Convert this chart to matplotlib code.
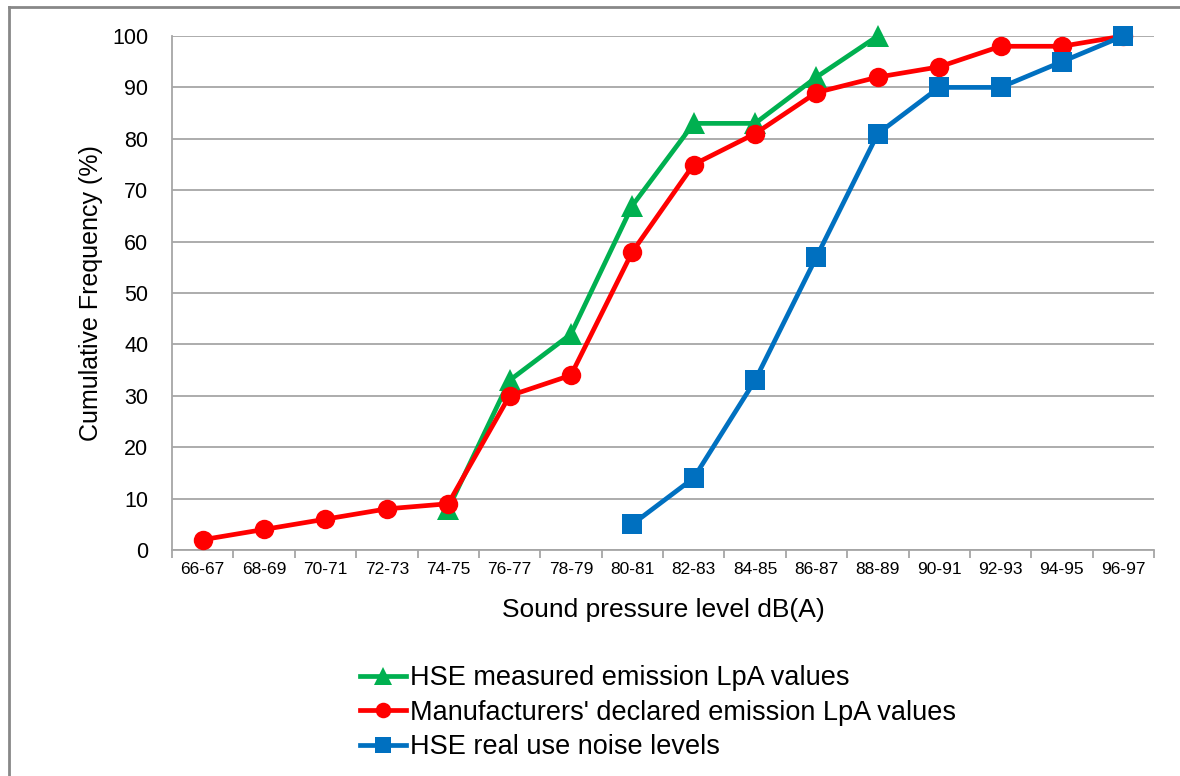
import numpy as np
import matplotlib

matplotlib.use("Agg")
import matplotlib.pyplot as plt
from matplotlib.lines import Line2D

plt.rcParams["font.family"] = ["Liberation Sans", "DejaVu Sans"]

categories = ["66-67", "68-69", "70-71", "72-73", "74-75", "76-77", "78-79", "80-81",
              "82-83", "84-85", "86-87", "88-89", "90-91", "92-93", "94-95", "96-97"]
nan = np.nan
hse_measured = [nan, nan, nan, nan, 8, 33, 42, 67, 83, 83, 92, 100, nan, nan, nan, nan]
manufacturers = [2, 4, 6, 8, 9, 30, 34, 58, 75, 81, 89, 92, 94, 98, 98, 100]
hse_real_use = [nan, nan, nan, nan, nan, nan, nan, 5, 14, 33, 57, 81, 90, 90, 95, 100]

series = [
    ("HSE measured emission LpA values", hse_measured, "#00B050", "^", 16),
    ("Manufacturers' declared emission LpA values", manufacturers, "#FF0000", "o", 14),
    ("HSE real use noise levels", hse_real_use, "#0070C0", "s", 14),
]

fig = plt.figure(figsize=(11.8, 7.76), dpi=100)
ax = fig.add_axes([172 / 1180, 1 - 550 / 776, (1154 - 172) / 1180, (550 - 36) / 776])

x = np.arange(len(categories))
for label, vals, color, marker, msize in series:
    ax.plot(x, vals, color=color, lw=3.4, marker=marker, markersize=msize,
            markeredgewidth=0, label=label, zorder=3, clip_on=False)

ax.set_xlim(-0.5, len(categories) - 0.5)
ax.set_ylim(0, 100)
ax.set_yticks(range(0, 101, 10))
ax.yaxis.grid(True, color="#A6A6A6", lw=1.3)
ax.set_axisbelow(True)
ax.tick_params(axis="y", length=0, pad=17, labelsize=15.5)

ax.set_xticks(np.arange(-0.5, len(categories), 1.0))
ax.set_xticklabels([])
ax.tick_params(axis="x", which="major", length=6, color="#A6A6A6", width=1.3)
ax.set_xticks(x, minor=True)
ax.set_xticklabels(categories, minor=True)
ax.tick_params(axis="x", which="minor", length=0, pad=9, labelsize=12.5)

for side in ["top", "right"]:
    ax.spines[side].set_visible(False)
for side in ["left", "bottom"]:
    ax.spines[side].set_color("#A6A6A6")
    ax.spines[side].set_linewidth(1.3)

ax.set_ylabel("Cumulative Frequency (%)", fontsize=18, labelpad=7)
ax.set_xlabel("Sound pressure level dB(A)", fontsize=19, labelpad=15)

fig.legend(loc="upper left", bbox_to_anchor=(360 / 1180, 1 - 665 / 776), frameon=False,
           fontsize=19.5, handlelength=1.7, handletextpad=0.15, labelspacing=0.32,
           borderaxespad=0, borderpad=0, markerscale=0.8)

# outer frame (top and left edges only)
fig.add_artist(Line2D([9 / 1180, 1], [1 - 7 / 776, 1 - 7 / 776], color="#888888", lw=2))
fig.add_artist(Line2D([9 / 1180, 9 / 1180], [0, 1 - 7 / 776], color="#888888", lw=2))

fig.savefig("out.png", dpi=100)
